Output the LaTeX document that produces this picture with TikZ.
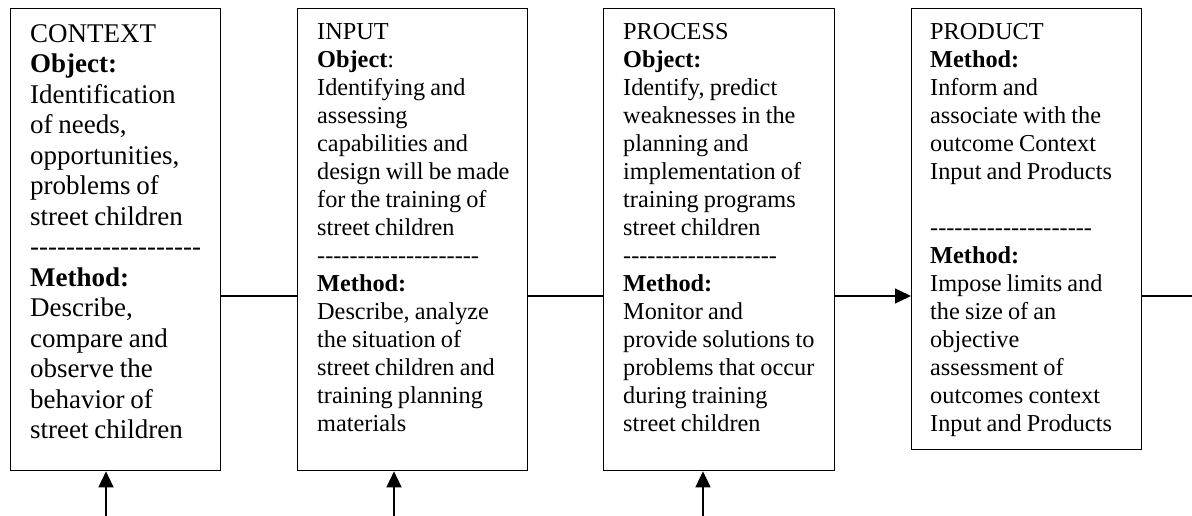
\documentclass[tikz,border=0pt]{standalone}
\usepackage{fontspec}
\setmainfont{Liberation Serif}[WordSpace=0.85]
\usetikzlibrary{arrows.meta}
\newcommand\dashrow[1]{\foreach \k in {1,...,#1}{-\kern0pt}}
\begin{document}
\begin{tikzpicture}[x=1pt,y=-1pt,
  box/.style={draw, line width=1.3pt, rectangle, inner sep=0pt, anchor=north west},
  txtA/.style={anchor=north west, inner sep=0pt, align=left, font=\fontsize{27}{30.5}\selectfont},
  txtB/.style={anchor=north west, inner sep=0pt, align=left, font=\fontsize{24.3}{28}\selectfont},
  conn/.style={line width=1.3pt},
  arr/.style={line width=1.3pt, -{Triangle[length=16pt,width=15pt]}}]
\useasboundingbox (0,0) rectangle (1192,516);
% boxes
\node[box, minimum width=210pt, minimum height=462pt] (b1) at (10,8) {};
\node[box, minimum width=230pt, minimum height=462pt] (b2) at (297,8) {};
\node[box, minimum width=231pt, minimum height=462pt] (b3) at (603,8) {};
\node[box, minimum width=230pt, minimum height=441pt] (b4) at (911,8) {};
% texts
\node[txtA] (t1) at (30,24) {CONTEXT\\\textbf{Object:}\\Identification\\of needs,\\opportunities,\\problems of\\street children\\\dashrow{19}\\\textbf{Method:}\\Describe,\\compare and\\observe the\\behavior of\\street children};
\node[txtB] (t2) at (317,23) {INPUT\\\textbf{Object}:\\Identifying and\\assessing\\capabilities and\\design will be made\\for the training of\\street children\\\dashrow{20}\\\textbf{Method:}\\Describe, analyze\\the situation of\\street children and\\training planning\\materials};
\node[txtB] (t3) at (623,23) {PROCESS\\\textbf{Object:}\\Identify, predict\\weaknesses in the\\planning and\\implementation of\\training programs\\street children\\\dashrow{19}\\\textbf{Method:}\\Monitor and\\provide solutions to\\problems that occur\\during training\\street children};
\node[txtB] (t4) at (930,23) {PRODUCT\\\textbf{Method:}\\Inform and\\associate with the\\outcome Context\\Input and Products\\[28pt]\dashrow{20}\\\textbf{Method:}\\Impose limits and\\the size of an\\objective\\assessment of\\outcomes context\\Input and Products};
% connectors
\coordinate (mid) at (600,296);
\coordinate (rend) at (1192,296);
\coordinate (in1) at (106,516);
\coordinate (in2) at (394,516);
\coordinate (in3) at (703,516);
\draw[conn] (b1.east |- mid) -- (b2.west |- mid);
\draw[conn] (b2.east |- mid) -- (b3.west |- mid);
\draw[arr] (b3.east |- mid) -- (b4.west |- mid);
\draw[conn] (b4.east |- mid) -- (rend);
\draw[arr] (in1) -- (in1 |- b1.south);
\draw[arr] (in2) -- (in2 |- b2.south);
\draw[arr] (in3) -- (in3 |- b3.south);
\end{tikzpicture}
\end{document}
